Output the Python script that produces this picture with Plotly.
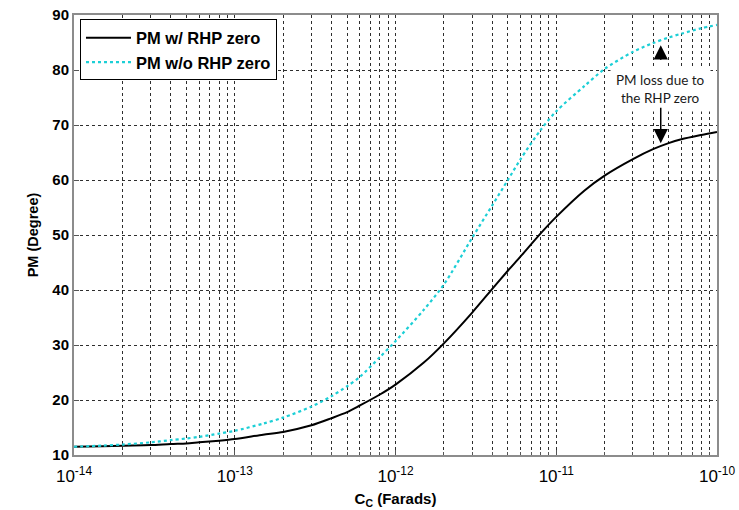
import plotly.graph_objects as go

# Compensation capacitance sweep (Farads)
cc_farads = [1e-14, 1.5e-14, 2e-14, 3e-14, 4e-14, 5e-14, 6e-14, 8e-14,
             1e-13, 1.5e-13, 2e-13, 3e-13, 4e-13, 5e-13, 6e-13, 8e-13,
             1e-12, 1.5e-12, 2e-12, 3e-12, 4e-12, 5e-12, 6e-12, 8e-12,
             1e-11, 1.5e-11, 2e-11, 3e-11, 4e-11, 5e-11, 6e-11, 8e-11,
             1e-10]

# Phase margin with the right-half-plane zero (degrees)
pm_with_rhp = [11.5, 11.6, 11.7, 11.8, 12.0, 12.1, 12.3, 12.6,
               12.9, 13.7, 14.2, 15.4, 16.7, 17.8, 19.0, 21.0,
               22.8, 26.8, 30.3, 35.9, 40.2, 43.5, 46.1, 50.3,
               53.3, 58.1, 60.8, 63.8, 65.6, 66.7, 67.4, 68.2,
               68.75]

# Phase margin without the right-half-plane zero (degrees)
pm_without_rhp = [11.5, 11.7, 11.9, 12.3, 12.7, 13.0, 13.3, 13.9,
                  14.4, 15.7, 16.8, 18.8, 20.7, 22.5, 24.2, 27.8,
                  30.7, 36.4, 41.0, 49.5, 55.4, 60.0, 63.8, 69.1,
                  72.5, 77.1, 80.2, 83.3, 84.9, 85.9, 86.6, 87.6,
                  88.2]

x_major = [1e-14, 1e-13, 1e-12, 1e-11, 1e-10]
x_major_text = ["10<sup>-14</sup>", "10<sup>-13</sup>", "10<sup>-12</sup>",
                "10<sup>-11</sup>", "10<sup>-10</sup>"]
x_minor = [m * d for d in (1e-14, 1e-13, 1e-12, 1e-11) for m in range(2, 10)]
y_ticks = [10, 20, 30, 40, 50, 60, 70, 80, 90]

FONT = "Arial, Liberation Sans, sans-serif"

fig = go.Figure()
fig.add_trace(go.Scatter(
    x=cc_farads, y=pm_with_rhp, mode="lines", name="<b>PM w/ RHP zero</b>",
    line=dict(color="black", width=2, shape="spline", smoothing=0.8),
))
fig.add_trace(go.Scatter(
    x=cc_farads, y=pm_without_rhp, mode="lines", name="<b>PM w/o RHP zero</b>",
    line=dict(color="#1ccfd6", width=2.2, dash="dot", shape="spline", smoothing=0.8),
))

grid = dict(showgrid=True, gridcolor="#2e2e2e", griddash="dot", gridwidth=1)

fig.update_xaxes(
    type="log", range=[-14, -10], automargin=False,
    tickmode="array", tickvals=x_major, ticktext=x_major_text,
    tickfont=dict(family=FONT, size=17, color="black"),
    ticks="inside", ticklen=5, tickcolor="#555", ticklabelstandoff=5,
    minor=dict(tickmode="array", tickvals=x_minor, ticks="inside", ticklen=3,
               tickcolor="#555", **grid),
    showline=True, linecolor="#8c8c8c", linewidth=2, mirror=True,
    zeroline=False,
    title=dict(text="<b>C<sub>C</sub> (Farads)</b>", standoff=8,
               font=dict(family=FONT, size=15, color="black")),
    **grid,
)
fig.update_yaxes(
    range=[10, 90], automargin=False,
    tickmode="array", tickvals=y_ticks,
    ticktext=[f"<b>{v}</b>" for v in y_ticks],
    tickfont=dict(family=FONT, size=15, color="black"),
    ticks="inside", ticklen=5, tickcolor="#555",
    showline=True, linecolor="#8c8c8c", linewidth=2, mirror=True,
    zeroline=False,
    title=dict(text="<b>PM (Degree)</b>", standoff=10,
               font=dict(family=FONT, size=14.5, color="black")),
    **grid,
)

# Text label between the two curves
fig.add_annotation(
    x=-10.35, y=76.5, xref="x", yref="y",
    text="PM loss due to<br>the RHP zero", showarrow=False,
    font=dict(family="Lato, Open Sans, sans-serif", size=13.5, color="#1a1a1a"),
    bgcolor="white", borderpad=5,
)
# Arrows pointing to each curve
fig.add_annotation(
    x=-10.35, y=84.5, xref="x", yref="y", text="", showarrow=True,
    ax=0, ay=16, arrowhead=2, arrowsize=1.9, arrowwidth=1.5, arrowcolor="black",
)
fig.add_annotation(
    x=-10.35, y=66.7, xref="x", yref="y", text="", showarrow=True,
    ax=0, ay=-37, arrowhead=2, arrowsize=1.9, arrowwidth=1.5, arrowcolor="black",
)

fig.update_layout(
    width=739, height=510,
    margin=dict(l=74, r=22, t=15, b=55),
    paper_bgcolor="white", plot_bgcolor="white",
    font=dict(family=FONT, color="black"),
    showlegend=True,
    legend=dict(
        x=0.0093, y=0.99, xanchor="left", yanchor="top",
        bgcolor="white", bordercolor="black", borderwidth=1,
        itemwidth=45,
        font=dict(family=FONT, size=16.5, color="black"),
    ),
)

fig.write_html("out.html")
